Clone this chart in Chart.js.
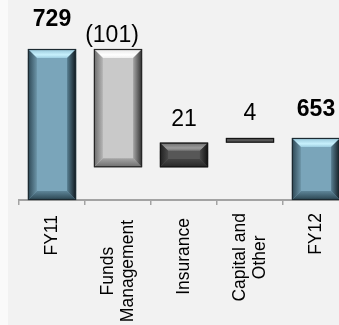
<!DOCTYPE html>
<html>
<head>
<meta charset="utf-8">
<script src="https://cdn.jsdelivr.net/npm/chart.js@4/dist/chart.umd.min.js"></script>
<style>
  html, body { margin: 0; padding: 0; background: #fafafa; overflow: hidden; }
  #wrap {
    position: absolute; left: 0; top: 0; width: 339px; height: 325px; overflow: hidden;
    background: linear-gradient(to right, #fafafa 8px, #f2f2f2 8px);
  }
  #chart { position: absolute; left: 0; top: 0; }
</style>
</head>
<body>
<div id="wrap"><canvas id="chart" width="349" height="325"></canvas></div>
<script>
// Profit bridge, FY11 to FY12
const categories = [['FY11'], ['Funds', 'Management'], ['Insurance'], ['Capital and', 'Other'], ['FY12']];
const values = [729, -101, 21, 4, 653];
const isTotal = [true, false, false, false, true];
const axisMin = 600;
const axisMax = 729;

// Build floating [start, end] ranges: totals rise from the axis floor,
// movements float on the running total.
const ranges = [];
let running = 0;
values.forEach((v, i) => {
  if (isTotal[i]) {
    ranges.push([axisMin, v]);
    running = v;
  } else {
    ranges.push([running, running + v]);
    running += v;
  }
});

const palettes = {
  blue: { main: '#7aa5ba', top: ['#93c3d6', '#c8f1fd', '#9dcde0'], left: ['#2c4653', '#6c94a7'], right: ['#587f92', '#0f181d'], bottom: ['#2a434f', '#5e8699'], border: '#1d2a31' },
  grey: { main: '#c9c9c9', top: ['#e6e6e6', '#ffffff', '#eeeeee'], left: ['#6a6a6a', '#b6b6b6'], right: ['#a6a6a6', '#2e2e2e'], bottom: ['#6c6c6c', '#a6a6a6'], border: '#262626' },
  dark: { main: '#575757', top: ['#6c6c6c', '#9c9c9c', '#767676'], left: ['#202020', '#4a4a4a'], right: ['#484848', '#111111'], bottom: ['#262626', '#444444'], border: '#151515' }
};
const barPalette = ['blue', 'grey', 'dark', 'dark', 'blue'];

// Bevelled face drawn over each bar the library has laid out
const bevelPlugin = {
  id: 'bevel',
  afterDatasetsDraw(chart) {
    const ctx = chart.ctx;
    chart.getDatasetMeta(0).data.forEach((el, i) => {
      const p = palettes[barPalette[i]];
      const L = el.x - el.width / 2, R = el.x + el.width / 2;
      const T = Math.min(el.y, el.base), B = Math.max(el.y, el.base);
      const h = B - T, w = R - L;
      const b = Math.min(9, h / 3, w / 4);
      ctx.save();
      ctx.fillStyle = p.main;
      ctx.fillRect(L, T, w, h);
      if (h > 6) {
        // top
        let g = ctx.createLinearGradient(0, T, 0, T + b);
        g.addColorStop(0, p.top[0]); g.addColorStop(0.65, p.top[1]); g.addColorStop(1, p.top[2]);
        ctx.fillStyle = g;
        ctx.beginPath(); ctx.moveTo(L, T); ctx.lineTo(R, T); ctx.lineTo(R - b, T + b); ctx.lineTo(L + b, T + b); ctx.closePath(); ctx.fill();
        // bottom
        g = ctx.createLinearGradient(0, B, 0, B - b);
        g.addColorStop(0, p.bottom[0]); g.addColorStop(1, p.bottom[1]);
        ctx.fillStyle = g;
        ctx.beginPath(); ctx.moveTo(L, B); ctx.lineTo(R, B); ctx.lineTo(R - b, B - b); ctx.lineTo(L + b, B - b); ctx.closePath(); ctx.fill();
        // left
        g = ctx.createLinearGradient(L, 0, L + b, 0);
        g.addColorStop(0, p.left[0]); g.addColorStop(1, p.left[1]);
        ctx.fillStyle = g;
        ctx.beginPath(); ctx.moveTo(L, T); ctx.lineTo(L + b, T + b); ctx.lineTo(L + b, B - b); ctx.lineTo(L, B); ctx.closePath(); ctx.fill();
        // right
        g = ctx.createLinearGradient(R - b, 0, R, 0);
        g.addColorStop(0, p.right[0]); g.addColorStop(1, p.right[1]);
        ctx.fillStyle = g;
        ctx.beginPath(); ctx.moveTo(R, T); ctx.lineTo(R - b, T + b); ctx.lineTo(R - b, B - b); ctx.lineTo(R, B); ctx.closePath(); ctx.fill();
      }
      ctx.strokeStyle = p.border;
      ctx.lineWidth = 1.2;
      ctx.strokeRect(L + 0.5, T + 0.5, w - 1, h - 1);
      ctx.restore();
    });
  }
};

// Value labels above each bar
const valueLabelPlugin = {
  id: 'valueLabels',
  afterDatasetsDraw(chart, args, opts) {
    const ctx = chart.ctx;
    chart.getDatasetMeta(0).data.forEach((el, i) => {
      const v = values[i];
      const text = v < 0 ? '(' + Math.abs(v) + ')' : String(v);
      const top = Math.min(el.y, el.base);
      ctx.save();
      ctx.font = (isTotal[i] ? 'bold ' : '') + '23px "Liberation Sans", Arial, sans-serif';
      ctx.fillStyle = '#000';
      ctx.textAlign = 'center';
      ctx.textBaseline = 'alphabetic';
      ctx.fillText(text, el.x + opts.shift[i], top - opts.lift[i]);
      ctx.restore();
    });
  }
};

// Vertical category names, lines centred on each other
const categoryLabelPlugin = {
  id: 'categoryLabels',
  afterDraw(chart, args, opts) {
    const ctx = chart.ctx;
    const xs = chart.scales.x;
    ctx.save();
    ctx.font = '17.5px "Liberation Sans", Arial, sans-serif';
    ctx.fillStyle = '#000';
    categories.forEach((lines, i) => {
      const cx = xs.getPixelForTick(i);
      const W = Math.max(...lines.map(t => ctx.measureText(t).width));
      ctx.save();
      ctx.translate(cx, opts.top[i]);
      ctx.rotate(-Math.PI / 2);
      ctx.textAlign = 'center';
      ctx.textBaseline = 'middle';
      lines.forEach((t, j) => {
        ctx.fillText(t, -W / 2, (j - (lines.length - 1) / 2) * opts.lineHeight);
      });
      ctx.restore();
    });
    ctx.restore();
  }
};

new Chart(document.getElementById('chart'), {
  type: 'bar',
  data: {
    labels: categories.map(c => c.join(' ')),
    datasets: [{
      data: ranges,
      backgroundColor: 'rgba(0,0,0,0)',
      borderWidth: 0,
      categoryPercentage: 1,
      barPercentage: 0.73,
      clip: false
    }]
  },
  options: {
    responsive: false,
    animation: false,
    layout: { padding: { left: 19, right: 0, top: 49, bottom: 0 } },
    plugins: {
      legend: { display: false },
      tooltip: { enabled: false },
      valueLabels: { lift: [23, 7, 17, 18, 22], shift: [0, -6, 0, 0, 0] },
      categoryLabels: { top: [215, 220, 218, 213, 213], lineHeight: 20 }
    },
    scales: {
      y: { display: false, min: axisMin, max: axisMax },
      x: {
        offset: true,
        grid: { display: true, offset: true, drawOnChartArea: false, drawTicks: true, tickLength: 5, color: '#a3a3a3', lineWidth: 1.5 },
        border: { display: true, color: '#a3a3a3', width: 2 },
        ticks: { display: false },
        afterFit(scale) { scale.height = 125; }
      }
    }
  },
  plugins: [bevelPlugin, valueLabelPlugin, categoryLabelPlugin]
});
</script>
</body>
</html>
